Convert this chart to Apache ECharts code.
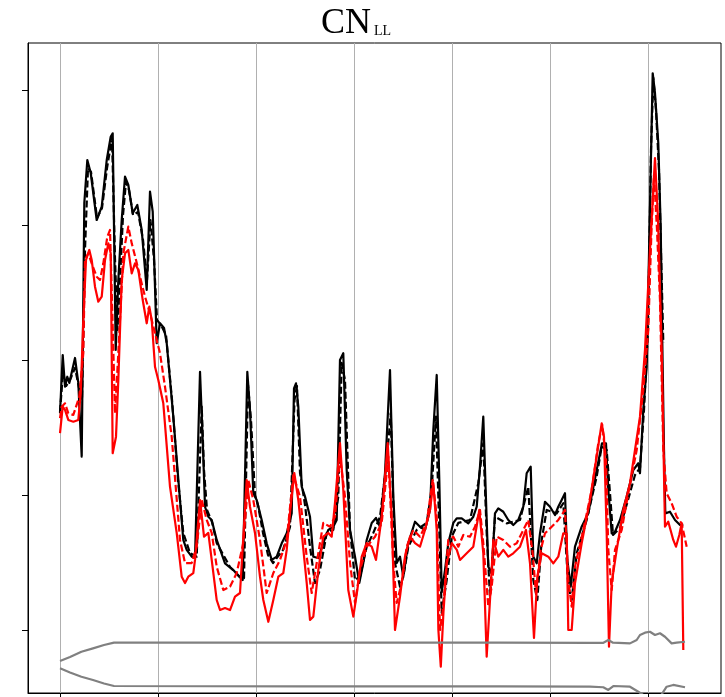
<!DOCTYPE html>
<html>
<head>
<meta charset="utf-8">
<script src="https://cdn.jsdelivr.net/npm/echarts@6/dist/echarts.min.js"></script>
<style>
  html, body { margin: 0; padding: 0; background: #fff; }
  #chart { width: 725px; height: 697px; }
</style>
</head>
<body>
<div id="chart"></div>
<script>
// ---- data (day, value) ----
const xTickDays = [0, 30, 60, 90, 120, 150, 180];
const yTickValues = [0, 1, 2, 3, 4];

const blackSolid = [
  [0,1.605],[0.83,2.037],[1.53,1.802],[2.23,1.876],[2.85,1.830],[4.59,2.015],[5.60,1.830],[6.64,1.284],
  [7.44,3.163],[8.36,3.481],[9.40,3.385],[11.23,3.037],[12.77,3.136],[14.30,3.481],[15.52,3.654],[16.13,3.679],
  [17.05,2.074],[17.85,2.593],[18.89,3.037],[19.90,3.358],[20.91,3.296],[22.26,3.087],[23.66,3.148],[25.01,2.963],
  [26.54,2.519],[27.55,3.247],[28.38,3.099],[29.60,2.124],[30.61,2.272],[31.84,2.237],[32.66,2.126],[34.68,1.580],
  [36.73,0.963],[37.74,0.667],[38.79,0.593],[40.32,0.543],[41.33,0.533],[42.86,1.913],[43.68,1.407],[44.39,0.913],
  [45.40,0.839],[46.44,0.815],[47.97,0.667],[50.51,0.494],[53.05,0.444],[54.89,0.395],[55.93,0.370],[57.34,1.913],
  [58.16,1.630],[59.17,1.013],[60.21,0.963],[61.74,0.815],[63.27,0.642],[64.81,0.519],[66.34,0.543],[67.87,0.642],
  [69.40,0.716],[70.93,0.864],[71.63,1.790],[72.24,1.827],[72.95,1.654],[73.99,1.062],[75.00,0.988],[76.53,0.839],
  [77.54,0.543],[79.07,0.533],[80.60,0.644],[82.13,0.741],[83.66,0.765],[84.70,0.815],[85.71,2.000],[86.72,2.050],
  [87.76,1.185],[88.78,0.741],[90.31,0.543],[91.62,0.348],[92.85,0.496],[93.89,0.667],[95.42,0.793],[96.73,0.830],
  [97.96,0.765],[99.49,1.163],[101.02,1.926],[102.03,0.988],[103.07,0.496],[104.08,0.543],[105.09,0.395],[106.62,0.644],
  [108.67,0.802],[110.20,0.765],[111.73,0.741],[113.27,0.889],[114.28,1.481],[115.32,1.889],[116.11,1.111],[116.85,0.281],
  [117.86,0.444],[118.87,0.644],[120.40,0.793],[121.44,0.827],[122.97,0.827],[124.99,0.790],[126.52,0.839],[127.56,0.913],
  [128.57,1.210],[129.58,1.580],[130.41,0.963],[131.11,0.469],[132.15,0.420],[133.16,0.864],[134.17,0.901],[135.70,0.876],
  [137.23,0.815],[138.76,0.778],[140.30,0.815],[141.83,0.913],[142.86,1.161],[144.09,1.210],[144.89,0.543],[145.93,0.494],
  [146.94,0.716],[148.47,0.950],[150.00,0.913],[151.53,0.852],[152.54,0.913],[153.58,0.963],[154.59,1.013],[155.30,0.519],
  [156.34,0.321],[157.65,0.617],[159.70,0.765],[161.72,0.864],[164.29,1.185],[165.92,1.383],[167.14,1.383],[167.85,1.037],
  [168.89,0.716],[169.90,0.728],[171.43,0.815],[173.48,0.988],[175.50,1.185],[177.03,1.235],[177.55,1.161],[178.56,1.630],
  [179.60,1.950],[180.46,2.963],[181.44,4.124],[182.14,3.978],[183.15,3.607],[183.89,2.987],[184.38,2.126],[184.90,1.333],
  [185.30,0.864],[186.73,0.876],[188.27,0.815],[189.80,0.778],[190.81,0.778]
];

const blackDashed = [
  [0,1.615],[0.92,1.911],[1.84,1.807],[3.06,1.852],[4.59,1.941],[5.82,1.793],[6.73,1.704],[7.65,2.815],
  [8.57,3.422],[9.49,3.393],[11.33,3.052],[12.86,3.126],[14.39,3.422],[15.92,3.644],[16.84,2.748],[17.60,2.222],
  [18.37,2.593],[19.29,3.074],[20.20,3.319],[21.12,3.259],[22.35,3.074],[23.88,3.096],[25.41,2.889],[26.63,2.593],
  [27.70,3.037],[28.78,2.741],[29.69,2.296],[30.92,2.259],[32.45,2.185],[34.29,1.704],[36.12,1.111],[37.74,0.719],
  [39.80,0.570],[41.85,0.543],[43.38,1.654],[44.08,1.185],[45.00,0.889],[46.53,0.800],[47.97,0.644],[52.04,0.467],
  [55.10,0.393],[56.33,0.385],[57.55,1.815],[58.47,1.556],[59.69,1.000],[60.61,0.926],[62.14,0.719],[63.67,0.556],
  [65.20,0.496],[68.27,0.593],[70.41,0.763],[71.79,1.704],[72.55,1.807],[73.47,1.163],[75.00,0.926],[76.53,0.617],
  [78.06,0.348],[79.59,0.444],[81.65,0.719],[83.66,0.741],[85.19,0.988],[86.23,1.978],[87.24,1.852],[88.78,0.741],
  [90.31,0.370],[91.84,0.395],[93.89,0.617],[95.91,0.719],[97.96,0.839],[100.00,1.237],[101.23,1.607],[102.55,0.496],
  [104.08,0.321],[105.09,0.395],[106.62,0.617],[109.19,0.741],[112.25,0.793],[113.78,1.037],[115.10,1.580],[116.11,0.741],
  [116.85,0.126],[118.38,0.370],[119.91,0.691],[121.93,0.793],[125.51,0.815],[128.05,1.087],[129.58,1.383],[130.62,0.716],
  [131.63,0.247],[133.16,0.839],[136.74,0.790],[140.82,0.815],[143.35,1.061],[144.89,0.370],[146.12,0.222],[147.46,0.667],
  [148.99,0.889],[152.05,0.864],[154.07,0.939],[155.60,0.321],[156.64,0.222],[158.17,0.568],[161.23,0.815],[164.29,1.136],
  [165.82,1.358],[167.35,1.333],[168.37,1.013],[169.29,0.704],[171.43,0.756],[173.88,0.963],[176.02,1.148],[177.55,1.200],
  [178.78,1.630],[180.00,2.222],[180.92,3.556],[181.63,4.089],[182.45,3.852],[183.37,3.407],[184.13,2.667],[184.69,2.126]
];

const redSolid = [
  [0,1.459],[0.83,1.654],[1.53,1.630],[2.54,1.556],[4.07,1.543],[5.60,1.556],[6.34,1.753],[7.13,2.296],
  [7.96,2.741],[8.97,2.815],[9.70,2.741],[10.71,2.543],[11.72,2.432],[12.77,2.469],[13.78,2.741],[14.79,2.864],
  [15.52,2.790],[16.13,1.309],[17.14,1.432],[17.85,1.852],[18.89,2.593],[19.90,2.790],[20.91,2.815],[21.95,2.642],
  [22.96,2.716],[23.97,2.667],[25.32,2.444],[26.54,2.272],[27.34,2.395],[28.07,2.296],[29.08,1.950],[30.09,1.852],
  [31.62,1.679],[33.67,1.062],[35.72,0.719],[37.25,0.395],[38.27,0.348],[39.27,0.395],[40.80,0.422],[41.33,0.519],
  [42.86,0.963],[44.08,0.691],[45.40,0.719],[46.44,0.519],[47.97,0.222],[48.98,0.148],[50.51,0.163],[52.04,0.148],
  [53.57,0.247],[55.10,0.274],[57.15,1.111],[58.16,0.913],[59.69,0.719],[61.22,0.395],[62.24,0.222],[63.77,0.061],
  [65.30,0.222],[66.83,0.395],[68.36,0.422],[69.40,0.593],[70.41,0.867],[71.72,1.163],[72.95,0.963],[73.99,0.719],
  [75.52,0.348],[76.53,0.074],[77.54,0.099],[79.07,0.444],[80.60,0.691],[82.13,0.719],[83.17,0.691],[84.18,0.941],
  [85.71,1.385],[86.72,1.037],[88.25,0.296],[89.79,0.099],[91.01,0.296],[92.36,0.543],[93.89,0.644],[95.42,0.617],
  [96.73,0.519],[98.48,0.839],[100.32,1.385],[101.54,0.839],[102.55,0.000],[104.08,0.247],[105.61,0.543],[107.14,0.691],
  [108.67,0.644],[110.20,0.617],[111.73,0.741],[113.27,0.889],[114.28,1.089],[115.32,0.741],[115.83,0.000],[116.57,-0.272],
  [117.37,0.126],[118.41,0.496],[119.94,0.644],[121.47,0.593],[122.45,0.519],[124.50,0.568],[126.52,0.617],[128.36,0.889],
  [129.58,0.568],[130.62,-0.198],[131.63,0.222],[132.64,0.667],[134.17,0.543],[135.70,0.593],[137.23,0.543],[138.76,0.568],
  [140.82,0.617],[142.65,0.741],[143.88,0.494],[145.10,-0.059],[146.12,0.395],[147.46,0.568],[149.48,0.543],[151.01,0.494],
  [152.54,0.543],[154.07,0.716],[155.11,0.716],[155.60,0.000],[156.64,0.000],[157.65,0.346],[159.70,0.642],[162.24,0.963],
  [164.29,1.284],[165.82,1.531],[166.53,1.432],[167.35,0.719],[168.06,-0.124],[168.89,0.348],[170.42,0.593],[172.44,0.889],
  [174.49,1.087],[176.02,1.333],[177.55,1.580],[179.08,2.074],[180.61,2.815],[182.14,3.496],[183.06,3.052],[184.19,2.074],
  [185.20,0.765],[186.21,0.802],[187.74,0.667],[188.57,0.617],[189.58,0.704],[190.31,0.790],[190.81,-0.148]
];

const redDashed = [
  [0,1.570],[0.52,1.654],[1.53,1.679],[2.54,1.605],[4.07,1.593],[5.91,1.728],[7.13,2.050],[7.65,2.741],
  [8.66,2.790],[9.70,2.716],[11.23,2.617],[12.24,2.593],[13.26,2.716],[14.48,2.913],[15.31,2.963],[16.13,2.247],
  [16.84,1.605],[17.85,2.050],[19.38,2.790],[20.91,2.988],[21.95,2.864],[23.27,2.741],[24.49,2.617],[26.02,2.469],
  [27.55,2.346],[29.08,2.198],[30.61,2.050],[32.14,1.802],[34.19,1.432],[36.73,0.667],[38.27,0.496],[40.32,0.496],
  [41.85,0.617],[43.38,0.963],[44.91,0.815],[46.44,0.719],[47.97,0.469],[49.99,0.296],[52.04,0.321],[54.09,0.422],
  [56.11,0.644],[57.64,1.111],[59.17,0.963],[61.22,0.667],[63.27,0.274],[65.30,0.422],[67.35,0.519],[69.40,0.667],
  [71.42,1.148],[73.47,0.988],[75.52,0.543],[77.05,0.274],[78.58,0.496],[80.60,0.793],[82.65,0.765],[84.18,0.839],
  [85.71,1.284],[87.24,0.988],[88.78,0.496],[90.31,0.200],[91.84,0.444],[93.89,0.617],[96.43,0.691],[98.48,0.793],
  [100.50,1.284],[102.03,0.496],[103.07,0.200],[104.60,0.348],[106.13,0.617],[108.15,0.741],[110.20,0.691],[112.25,0.793],
  [114.09,1.111],[115.32,0.839],[116.33,0.000],[117.34,0.173],[118.87,0.667],[120.40,0.691],[121.93,0.617],[123.47,0.704],
  [125.51,0.691],[127.04,0.765],[128.57,0.889],[129.58,0.642],[131.11,0.173],[132.15,0.321],[133.68,0.691],[135.70,0.667],
  [137.76,0.617],[139.80,0.642],[141.83,0.741],[143.35,0.815],[144.70,0.568],[145.71,0.272],[147.15,0.593],[148.47,0.716],
  [150.52,0.765],[152.54,0.815],[154.59,0.889],[155.60,0.370],[156.64,0.173],[157.65,0.469],[160.19,0.741],[162.76,1.037],
  [164.78,1.383],[166.00,1.519],[167.14,1.259],[167.85,0.593],[168.89,0.296],[169.90,0.593],[171.95,0.741],[173.97,1.013],
  [176.54,1.333],[178.56,1.778],[180.09,2.222],[181.07,2.963],[181.84,3.370],[182.76,2.963],[183.67,2.444],[184.69,1.333],
  [185.71,1.013],[187.24,0.939],[188.77,0.839],[190.31,0.790],[191.84,0.617]
];

const bandUpper = [
  [0,-0.230],[3.06,-0.200],[6.55,-0.161],[10.10,-0.136],[13.47,-0.111],[16.53,-0.094],[42.86,-0.093],[73.47,-0.093],
  [104.08,-0.093],[134.69,-0.094],[162.24,-0.096],[166.22,-0.096],[167.85,-0.074],[169.29,-0.094],[174.49,-0.099],
  [176.54,-0.074],[177.55,-0.037],[179.08,-0.020],[180.61,-0.013],[182.14,-0.037],[183.67,-0.024],[185.20,-0.050],
  [187.24,-0.099],[188.77,-0.094],[191.33,-0.087]
];

const bandLower = [
  [0,-0.284],[3.06,-0.315],[6.55,-0.346],[10.10,-0.370],[13.47,-0.396],[16.53,-0.415],[73.47,-0.417],[134.69,-0.417],
  [162.24,-0.420],[166.31,-0.424],[167.85,-0.444],[169.39,-0.415],[174.49,-0.420],[177.03,-0.457],[178.56,-0.481],
  [180.61,-0.504],[182.14,-0.489],[183.67,-0.496],[185.71,-0.420],[187.74,-0.407],[191.33,-0.424]
];

// ---- chart ----
const chart = echarts.init(document.getElementById('chart'), null, { renderer: 'canvas' });

function lineSeries(data, color, dashed, width) {
  return {
    type: 'line',
    data: data,
    showSymbol: false,
    symbol: 'none',
    clip: true,
    silent: true,
    lineStyle: { color: color, width: width, type: dashed ? [7, 3] : 'solid', cap: 'butt', join: 'round' }
  };
}

chart.setOption({
  animation: false,
  backgroundColor: '#ffffff',
  title: [
    { text: 'CN', left: 321, top: 6, padding: 0,
      textStyle: { fontFamily: 'Liberation Serif', fontSize: 36, fontWeight: 'normal', color: '#000', lineHeight: 36 } },
    { text: 'LL', left: 374, top: 24, padding: 0,
      textStyle: { fontFamily: 'Liberation Serif', fontSize: 14, fontWeight: 'normal', color: '#000', lineHeight: 14 } }
  ],
  grid: { left: 28, right: 4, top: 43, bottom: 4, show: true, borderColor: '#000', borderWidth: 1, backgroundColor: 'transparent' },
  xAxis: {
    type: 'value',
    min: -9.8,
    max: 202.35,
    axisLine: { show: true, onZero: false, lineStyle: { color: '#000', width: 1 } },
    axisTick: { show: true, inside: false, length: 6, customValues: xTickDays, lineStyle: { color: '#000' } },
    axisLabel: { show: false, customValues: xTickDays },
    splitLine: { show: true, lineStyle: { color: '#b0b0b0', width: 1 } }
  },
  yAxis: {
    type: 'value',
    min: -0.4667,
    max: 4.348,
    axisLine: { show: true, onZero: false, lineStyle: { color: '#000', width: 1 } },
    axisTick: { show: true, inside: false, length: 6, customValues: yTickValues, lineStyle: { color: '#000' } },
    axisLabel: { show: false, customValues: yTickValues },
    splitLine: { show: false }
  },
  series: [
    lineSeries(blackSolid, '#000000', false, 2.2),
    lineSeries(blackDashed, '#000000', true, 2.2),
    lineSeries(redSolid, '#ff0000', false, 2.2),
    lineSeries(redDashed, '#ff0000', true, 2.2),
    lineSeries(bandUpper, '#808080', false, 2.2),
    lineSeries(bandLower, '#808080', false, 2.2)
  ]
});
</script>
</body>
</html>
